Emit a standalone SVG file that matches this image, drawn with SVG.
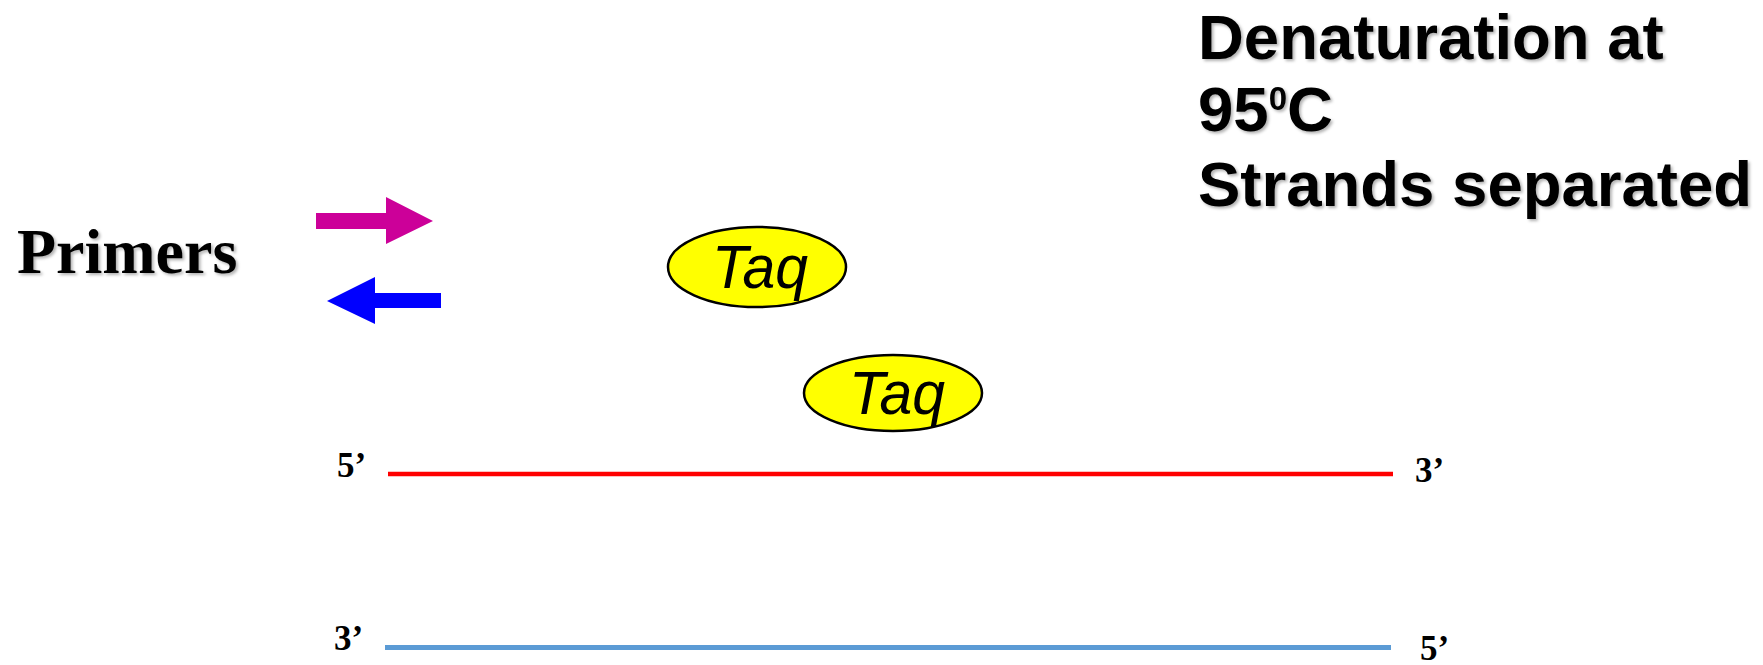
<svg xmlns="http://www.w3.org/2000/svg" width="1763" height="665" viewBox="0 0 1763 665">
<style>
.h{font-family:"Liberation Sans",Arial,sans-serif;font-weight:bold;font-size:63.5px;fill:#000}
.t{font-family:"Liberation Serif","Times New Roman",serif;font-weight:bold;fill:#000}
.taq{font-family:"Liberation Sans",Arial,sans-serif;font-style:italic;font-size:61px;fill:#000}
.enz{fill:#FFFF00;stroke:#000;stroke-width:2.5}
</style>
<defs>
<filter id="sh" x="-10%" y="-10%" width="130%" height="140%">
<feDropShadow dx="2" dy="2" stdDeviation="1.5" flood-color="#000" flood-opacity="0.3"/>
</filter>
</defs>
<g id="title" filter="url(#sh)">
<text class="h" x="1198" y="59">Denaturation at</text>
<text class="h" x="1198" y="131">95<tspan font-size="33" dy="-21">0</tspan><tspan dy="21">C</tspan></text>
<text class="h" x="1198" y="206">Strands separated</text>
</g>
<g id="primers-label" filter="url(#sh)">
<text class="t" x="17" y="273" font-size="64">Primers</text>
</g>
<g id="primer-forward">
<polygon points="316,213 386,213 386,197 433,221 386,244 386,229 316,229" fill="#CC0099"/>
</g>
<g id="primer-reverse">
<polygon points="441,293 375,293 375,277 327,301 375,324 375,308 441,308" fill="#0000FF"/>
</g>
<g id="taq1">
<ellipse class="enz" cx="757" cy="267" rx="89" ry="40"/>
<text class="taq" x="712" y="288" textLength="96" lengthAdjust="spacingAndGlyphs">Taq</text>
</g>
<g id="taq2">
<ellipse class="enz" cx="893" cy="393" rx="89" ry="38"/>
<text class="taq" x="849" y="414" textLength="96" lengthAdjust="spacingAndGlyphs">Taq</text>
</g>
<g id="strands">
<line x1="388" y1="474" x2="1393" y2="474" stroke="#FF0000" stroke-width="4.5"/>
<line x1="385" y1="647.5" x2="1391" y2="647.5" stroke="#5B9BD5" stroke-width="5"/>
</g>
<g id="labels">
<text class="t" x="337" y="477" font-size="35">5’</text>
<text class="t" x="1415" y="482" font-size="35">3’</text>
<text class="t" x="334" y="650" font-size="35">3’</text>
<text class="t" x="1420" y="660" font-size="35">5’</text>
</g>
</svg>
